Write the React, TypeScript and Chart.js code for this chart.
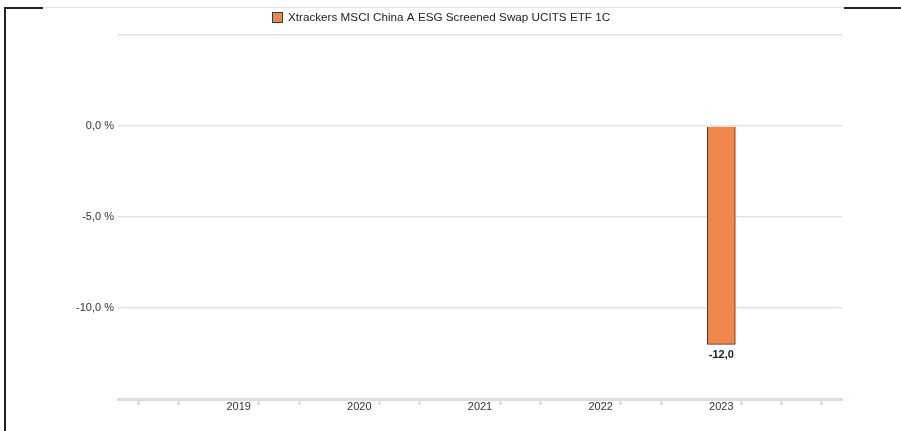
import React, { useEffect, useRef } from 'react';
import { Chart, registerables } from 'chart.js';

Chart.register(...registerables);

const seriesLabel = 'Xtrackers MSCI China A ESG Screened Swap UCITS ETF 1C';
const years = [2019, 2020, 2021, 2022, 2023];
const values: (number | null)[] = [null, null, null, null, -12.0];
const yLabelValues = [0, -5, -10];
const yMin = -15;
const yMax = 5;
const yStep = 5;

const barFill = '#ef874a';
const barBorder = '#3a3a3a';
const gridColor = '#e4e2db';
const axisColor = '#e0ddd3';
const textColor = '#333333';
const fontFamily = '"Liberation Sans", Arial, Helvetica, sans-serif';

const fmt = (v: number) => v.toFixed(1).replace('.', ',');
const isYear = (v: number) => {
  const r = Math.round(v);
  return Math.abs(v - r) < 1e-6 && years.includes(r);
};

const legendPlugin = {
  id: 'customLegend',
  afterDraw(chart: any) {
    const ctx = chart.ctx;
    const ds = chart.data.datasets[0];
    ctx.save();
    ctx.fillStyle = ds.backgroundColor;
    ctx.strokeStyle = ds.borderColor;
    ctx.lineWidth = 1;
    ctx.fillRect(272.5, 12.5, 10, 10);
    ctx.strokeRect(272.5, 12.5, 10, 10);
    ctx.fillStyle = '#222';
    ctx.font = `11.7px ${fontFamily}`;
    ctx.textBaseline = 'middle';
    ctx.textAlign = 'left';
    ctx.fillText(ds.label, 288, 18);
    ctx.restore();
  },
};

const valueLabelPlugin = {
  id: 'valueLabels',
  afterDatasetsDraw(chart: any) {
    const ctx = chart.ctx;
    const meta = chart.getDatasetMeta(0);
    ctx.save();
    ctx.font = `bold 11px ${fontFamily}`;
    ctx.fillStyle = '#222';
    ctx.textAlign = 'center';
    ctx.textBaseline = 'top';
    meta.data.forEach((el: any, i: number) => {
      const raw = chart.data.datasets[0].data[i];
      if (!raw || raw.y == null) return;
      const y = raw.y < 0 ? el.y + 5 : el.y - 15;
      ctx.fillText(fmt(raw.y), el.x, y);
    });
    ctx.restore();
  },
};

export default function App() {
  const ref = useRef<HTMLCanvasElement | null>(null);

  useEffect(() => {
    if (!ref.current) return;
    const points = years
      .map((yr, i) => ({ x: yr, y: values[i] }))
      .filter((p) => p.y != null);

    const chart = new Chart(ref.current, {
      type: 'bar',
      data: {
        datasets: [
          {
            label: seriesLabel,
            data: points as any,
            backgroundColor: barFill,
            borderColor: barBorder,
            borderWidth: 1,
            barThickness: 28,
          },
        ],
      },
      options: {
        responsive: false,
        animation: false,
        layout: { padding: { top: 35, right: 59, left: 0, bottom: 0 } },
        plugins: {
          legend: { display: false },
          tooltip: { enabled: false },
        },
        scales: {
          x: {
            type: 'linear',
            offset: false,
            min: years[0] - 1,
            max: years[years.length - 1] + 1,
            afterBuildTicks: (scale: any) => {
              const ticks = [];
              for (let t = (years[0] - 1) * 3; t <= (years[years.length - 1] + 1) * 3; t++) {
                ticks.push({ value: t / 3 });
              }
              scale.ticks = ticks;
            },
            afterFit: (scale: any) => {
              scale.height = 32;
            },
            ticks: {
              autoSkip: false,
              maxRotation: 0,
              padding: -5,
              color: textColor,
              font: { family: fontFamily, size: 11 },
              callback: (v: any) => (isYear(Number(v)) ? String(Math.round(Number(v))) : ''),
            },
            grid: {
              drawOnChartArea: false,
              drawTicks: true,
              tickLength: 6,
              tickWidth: 2,
              tickColor: (c: any) => (c.tick && isYear(c.tick.value) ? 'rgba(0,0,0,0)' : '#d6d2c6'),
            },
            border: { display: true, color: axisColor, width: 3 },
          },
          y: {
            min: yMin,
            max: yMax,
            afterFit: (scale: any) => {
              scale.width = 118;
            },
            ticks: {
              stepSize: yStep,
              padding: 4,
              color: textColor,
              font: { family: fontFamily, size: 11 },
              callback: (v: any) => (yLabelValues.includes(Number(v)) ? `${fmt(Number(v))} %` : ''),
            },
            grid: {
              drawTicks: false,
              lineWidth: 1.5,
              color: (c: any) => (c.tick && c.tick.value === yMin ? 'rgba(0,0,0,0)' : gridColor),
            },
            border: { display: false },
          },
        },
      },
      plugins: [legendPlugin, valueLabelPlugin],
    });
    return () => chart.destroy();
  }, []);

  return (
    <div style={{ position: 'fixed', left: 0, top: 0, width: 901, height: 431, background: '#fff' }}>
      <canvas ref={ref} width={901} height={431} style={{ display: 'block' }} />
      <div style={{ position: 'absolute', left: 4, top: 7, width: 2, height: 424, background: '#222' }} />
      <div style={{ position: 'absolute', left: 4, top: 7, width: 39, height: 2, background: '#222' }} />
      <div style={{ position: 'absolute', left: 43, top: 7, width: 801, height: 1, background: '#e2e2e2' }} />
      <div style={{ position: 'absolute', left: 844, top: 7, width: 57, height: 2, background: '#222' }} />
    </div>
  );
}
